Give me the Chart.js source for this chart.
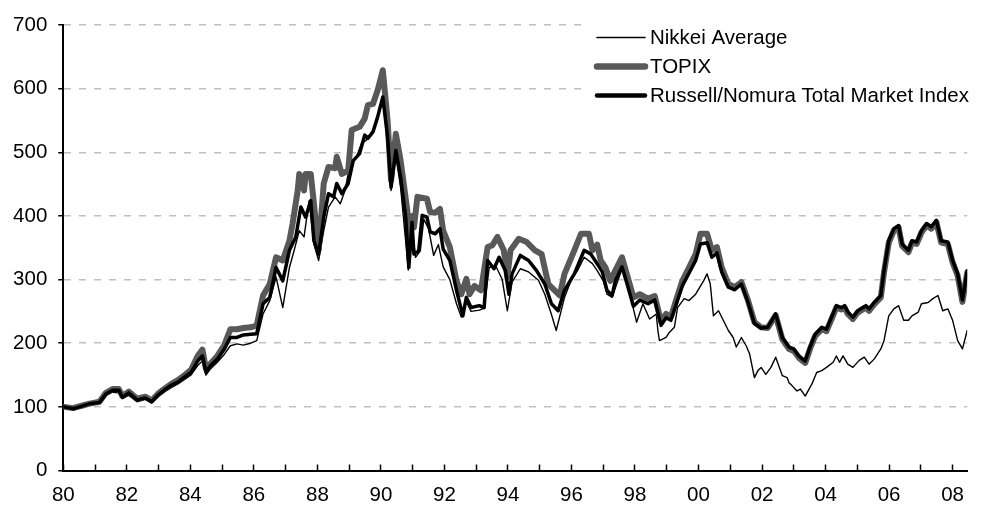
<!DOCTYPE html>
<html>
<head>
<meta charset="utf-8">
<script src="https://cdn.jsdelivr.net/npm/chart.js@4.4.1/dist/chart.umd.min.js"></script>
<style>
  html, body { margin: 0; padding: 0; background: #fff; }
  #wrap { width: 983px; height: 506px; }
</style>
</head>
<body>
<div id="wrap"><canvas id="myChart" width="983" height="506"></canvas></div>
<script>
// series names (legend order)
var seriesNames = ['Nikkei Average', 'TOPIX', 'Russell/Nomura Total Market Index'];

// index levels, 1980 = 100 (x = year)
var nikkeiYears = [1980.02,1980.31,1980.52,1980.83,1981.14,1981.34,1981.55,1981.75,1981.86,1982.06,1982.32,1982.58,1982.78,1982.99,1983.2,1983.4,1983.61,1983.82,1984.02,1984.23,1984.38,1984.49,1984.64,1984.85,1985.06,1985.26,1985.47,1985.67,1985.9,1986.09,1986.29,1986.5,1986.7,1986.91,1987.12,1987.27,1987.43,1987.58,1987.74,1987.89,1988.04,1988.2,1988.35,1988.56,1988.72,1988.87,1989.03,1989.23,1989.39,1989.54,1989.75,1989.9,1990.06,1990.21,1990.32,1990.47,1990.62,1990.78,1990.86,1990.98,1991.09,1991.24,1991.35,1991.5,1991.66,1991.81,1991.96,1992.17,1992.38,1992.53,1992.69,1992.84,1993.1,1993.25,1993.41,1993.61,1993.82,1993.98,1994.13,1994.39,1994.65,1994.96,1995.16,1995.37,1995.52,1995.78,1996.0,1996.19,1996.4,1996.66,1996.81,1997.0,1997.12,1997.28,1997.59,1997.84,1998.05,1998.25,1998.46,1998.67,1998.72,1998.77,1998.98,1999.08,1999.24,1999.34,1999.55,1999.7,1999.91,2000.16,2000.27,2000.37,2000.47,2000.63,2000.78,2000.94,2001.09,2001.19,2001.35,2001.5,2001.61,2001.76,2001.87,2001.97,2002.12,2002.28,2002.43,2002.64,2002.79,2002.85,2002.95,2003.1,2003.21,2003.36,2003.57,2003.72,2003.88,2004.03,2004.24,2004.34,2004.44,2004.55,2004.7,2004.86,2005.06,2005.22,2005.37,2005.53,2005.74,2005.84,2005.99,2006.15,2006.3,2006.46,2006.61,2006.72,2006.92,2007.02,2007.23,2007.38,2007.54,2007.69,2007.85,2008.0,2008.16,2008.31,2008.46];
var nikkeiValues = [100,96,99,104,106,118,123,122,113,118,108,112,106,116,124,130,136,143,150,165,172,150,160,170,182,196,199,197,200,204,246,267,304,256,319,346,377,367,424,356,330,377,414,430,419,440,482,493,514,519,535,556,580,520,440,495,445,360,315,380,335,345,395,380,338,355,320,300,262,241,265,250,252,255,319,322,300,251,296,317,312,299,277,245,220,272,300,314,335,325,314,298,277,272,317,277,233,262,238,246,220,204,209,217,225,256,270,267,277,298,309,293,243,251,236,220,209,194,209,196,183,146,157,162,151,162,178,149,146,138,133,125,128,117,136,154,157,162,170,180,170,180,167,162,173,178,167,175,191,204,243,254,259,236,236,243,249,262,264,270,275,251,254,236,204,191,220];

var topixYears = [1980.02,1980.31,1980.52,1980.83,1981.14,1981.34,1981.55,1981.75,1981.86,1982.06,1982.32,1982.58,1982.78,1982.99,1983.2,1983.4,1983.61,1983.82,1984.02,1984.23,1984.38,1984.49,1984.64,1984.85,1985.06,1985.26,1985.47,1985.67,1985.9,1986.09,1986.29,1986.5,1986.7,1986.91,1987.12,1987.22,1987.38,1987.43,1987.58,1987.63,1987.79,1987.89,1988.04,1988.2,1988.35,1988.56,1988.61,1988.77,1988.97,1989.08,1989.33,1989.49,1989.59,1989.75,1989.9,1990.06,1990.21,1990.32,1990.47,1990.62,1990.83,1990.9,1990.98,1991.04,1991.15,1991.45,1991.55,1991.71,1991.86,1991.96,1992.17,1992.38,1992.53,1992.69,1992.79,1992.95,1993.15,1993.36,1993.51,1993.67,1993.87,1993.98,1994.08,1994.34,1994.59,1994.85,1995.06,1995.27,1995.47,1995.63,1995.78,1996.09,1996.3,1996.55,1996.66,1996.81,1996.92,1997.07,1997.22,1997.38,1997.59,1997.74,1997.95,1998.15,1998.41,1998.62,1998.82,1998.98,1999.13,1999.29,1999.49,1999.7,1999.91,2000.06,2000.27,2000.42,2000.58,2000.73,2000.94,2001.14,2001.35,2001.56,2001.76,2001.97,2002.18,2002.43,2002.64,2002.85,2003.0,2003.16,2003.36,2003.51,2003.67,2003.88,2004.03,2004.19,2004.34,2004.5,2004.6,2004.7,2004.86,2005.01,2005.17,2005.27,2005.37,2005.53,2005.74,2005.84,2005.99,2006.15,2006.3,2006.41,2006.61,2006.72,2006.87,2007.02,2007.18,2007.33,2007.49,2007.64,2007.85,2008.0,2008.16,2008.31,2008.46];
var topixValues = [100,98,101,105,108,122,128,128,117,124,113,116,110,121,129,136,142,150,158,180,190,160,168,180,196,222,222,224,225,228,275,293,335,330,361,388,440,466,440,466,466,420,346,451,477,475,493,466,471,535,540,553,574,576,598,629,550,456,529,487,409,350,400,382,430,427,406,405,411,377,351,298,277,301,277,290,283,351,354,367,346,304,346,364,359,346,340,293,283,275,309,346,372,372,346,355,330,319,298,314,335,309,272,277,270,274,235,246,241,267,298,319,340,372,372,346,351,319,293,288,296,267,233,225,224,244,206,191,188,177,169,191,211,222,219,238,256,253,256,246,238,248,253,256,251,261,272,311,358,377,382,353,343,358,356,374,385,380,390,358,356,327,306,265,311];

var russellYears = [1980.02,1980.31,1980.52,1980.83,1981.14,1981.34,1981.55,1981.75,1981.86,1982.06,1982.32,1982.58,1982.78,1982.99,1983.2,1983.4,1983.61,1983.82,1984.02,1984.23,1984.38,1984.49,1984.64,1984.85,1985.06,1985.26,1985.47,1985.67,1985.9,1986.09,1986.29,1986.5,1986.7,1986.91,1987.12,1987.32,1987.48,1987.63,1987.79,1987.89,1988.04,1988.2,1988.35,1988.51,1988.61,1988.77,1988.97,1989.13,1989.33,1989.49,1989.59,1989.75,1989.9,1990.06,1990.21,1990.32,1990.47,1990.62,1990.78,1990.88,1990.98,1991.04,1991.19,1991.3,1991.45,1991.55,1991.71,1991.86,1991.96,1992.17,1992.38,1992.58,1992.69,1992.84,1993.1,1993.25,1993.36,1993.56,1993.72,1993.92,1994.03,1994.13,1994.39,1994.65,1994.9,1995.16,1995.37,1995.58,1995.78,1996.09,1996.4,1996.61,1996.81,1996.97,1997.12,1997.28,1997.38,1997.59,1997.74,1997.95,1998.15,1998.41,1998.62,1998.82,1998.98,1999.13,1999.29,1999.49,1999.7,1999.91,2000.06,2000.27,2000.42,2000.58,2000.73,2000.94,2001.14,2001.35,2001.56,2001.76,2001.97,2002.18,2002.43,2002.64,2002.85,2003.0,2003.16,2003.36,2003.51,2003.67,2003.88,2004.03,2004.19,2004.34,2004.5,2004.6,2004.7,2004.86,2005.01,2005.17,2005.27,2005.37,2005.53,2005.74,2005.84,2005.99,2006.15,2006.3,2006.41,2006.61,2006.72,2006.87,2007.02,2007.18,2007.33,2007.49,2007.64,2007.85,2008.0,2008.16,2008.31,2008.46];
var russellValues = [100,97,100,105,107,120,126,126,115,122,111,114,108,119,127,134,139,147,154,172,180,155,165,175,190,209,209,213,214,215,262,272,319,298,346,367,414,398,424,361,340,398,435,430,451,435,451,487,498,527,522,532,556,587,524,445,503,461,398,319,390,340,345,401,398,375,372,380,348,330,283,243,272,256,259,256,330,317,335,314,277,309,338,330,314,293,262,251,283,309,346,340,325,312,283,275,298,320,295,258,268,262,268,228,240,236,260,290,310,330,356,358,335,342,312,288,284,293,264,231,224,225,246,209,194,191,180,172,194,214,225,222,241,259,256,259,249,241,251,256,259,254,264,275,314,361,380,385,356,346,361,359,377,388,383,393,361,359,330,309,268,314];

// axis ticks
var yTickValues = [0, 100, 200, 300, 400, 500, 600, 700];
var xFirstYear = 1980, xLastYear = 2008.46;

function toPoints(xs, ys) {
    var pts = [];
    for (var i = 0; i < xs.length; i++) {
        pts.push({ x: xs[i], y: ys[i] });
    }
    return pts;
}

var fontFamily = '"Liberation Sans", Arial, sans-serif';
Chart.defaults.font.family = fontFamily;
Chart.defaults.font.size = 20.5;
Chart.defaults.color = '#000';

// legend drawn by hand: 3 rows at the top right, on a white box
var legendBox = {
    id: 'legendBox',
    afterDatasetsDraw: function (chart) {
        var ctx = chart.ctx;
        var rows = [37.5, 66.5, 95.5];
        ctx.save();
        ctx.fillStyle = '#fff';
        ctx.fillRect(588, 20, 395, 92);
        ctx.font = '20.5px ' + fontFamily;
        ctx.textBaseline = 'middle';
        ctx.textAlign = 'left';
        chart.data.datasets.forEach(function (ds, i) {
            ctx.beginPath();
            ctx.lineWidth = ds.legendWidth;
            ctx.strokeStyle = ds.borderColor;
            ctx.lineCap = 'round';
            ctx.moveTo(597, rows[i]);
            ctx.lineTo(645, rows[i]);
            ctx.stroke();
            ctx.fillStyle = '#000';
            ctx.fillText(ds.label, 650, rows[i] + 1);
        });
        ctx.restore();
    }
};

var chart = new Chart(document.getElementById('myChart'), {
    type: 'line',
    data: {
        datasets: [
            {
                label: seriesNames[0],
                data: toPoints(nikkeiYears, nikkeiValues),
                borderColor: '#000000',
                borderWidth: 1.4,
                legendWidth: 1.6,
                order: 2
            },
            {
                label: seriesNames[1],
                data: toPoints(topixYears, topixValues),
                borderColor: '#595959',
                borderWidth: 6,
                legendWidth: 6.5,
                order: 1
            },
            {
                label: seriesNames[2],
                data: toPoints(russellYears, russellValues),
                borderColor: '#000000',
                borderWidth: 3.5,
                legendWidth: 4.5,
                order: 0
            }
        ]
    },
    options: {
        responsive: false,
        animation: false,
        devicePixelRatio: 1,
        layout: { padding: { top: 25, right: 0, left: 0, bottom: 0 } },
        elements: {
            point: { radius: 0, hoverRadius: 0 },
            line: { tension: 0, borderJoinStyle: 'round', borderCapStyle: 'round', fill: false }
        },
        plugins: {
            legend: { display: false },
            tooltip: { enabled: false }
        },
        scales: {
            x: {
                type: 'linear',
                min: xFirstYear,
                max: xLastYear,
                afterFit: function (scale) { scale.height = 35.5; },
                border: { display: true, color: '#000', width: 2 },
                grid: {
                    display: true,
                    drawOnChartArea: false,
                    drawTicks: true,
                    tickLength: -6,
                    tickColor: '#000',
                    tickWidth: 1.5
                },
                ticks: {
                    stepSize: 1,
                    autoSkip: false,
                    includeBounds: false,
                    maxRotation: 0,
                    padding: 19,
                    callback: function (v) {
                        if (Math.round(v) !== v || v % 2 !== 0) return '';
                        return String(v).slice(2);
                    }
                }
            },
            y: {
                min: 0,
                max: 700,
                afterFit: function (scale) { scale.width = 63.3; },
                afterBuildTicks: function (scale) {
                    scale.ticks = yTickValues.map(function (v) { return { value: v }; });
                },
                border: { display: true, color: '#000', width: 2, dash: [7, 8] },
                grid: {
                    color: function (c) { return c.tick && c.tick.value === 0 ? 'rgba(0,0,0,0)' : '#c0c0c0'; },
                    lineWidth: 1.5,
                    drawTicks: true,
                    tickLength: 5,
                    tickColor: '#000',
                    tickWidth: 1.5,
                    tickBorderDash: []
                },
                ticks: {
                    padding: 11,
                    callback: function (v) { return String(v); }
                }
            }
        }
    },
    plugins: [legendBox]
});
</script>
</body>
</html>
